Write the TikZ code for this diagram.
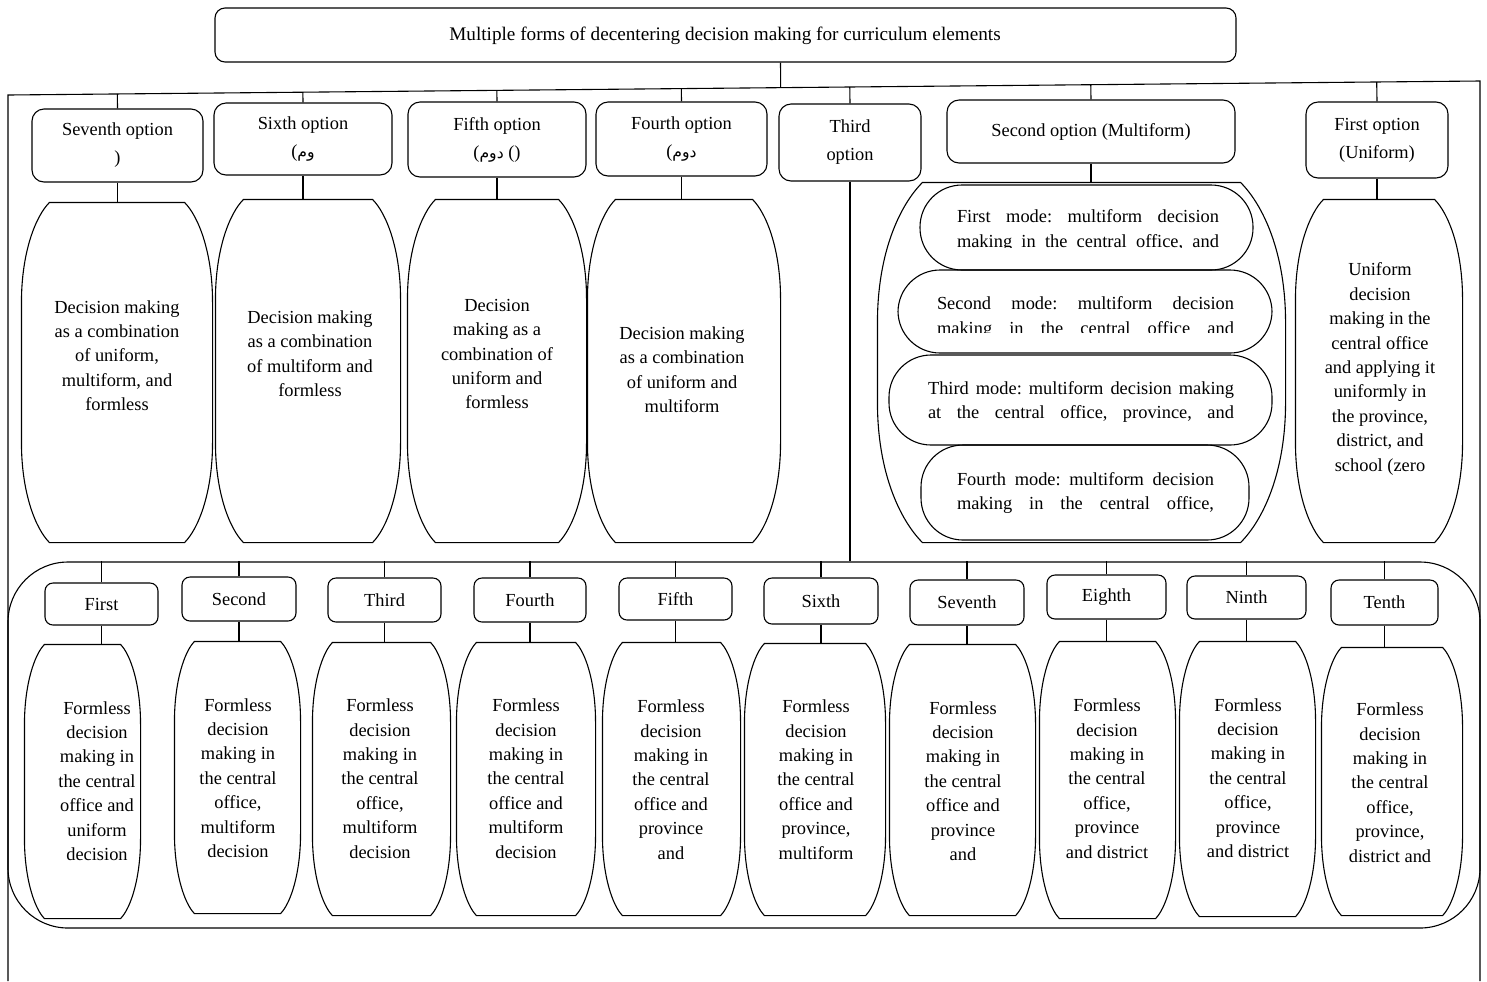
\documentclass[tikz,border=0pt]{standalone}
\usepackage{fontspec}
\setmainfont{Liberation Serif}
\newfontfamily\arabicfont[Script=Arabic,Scale=0.85]{DejaVu Sans}
\TeXXeTstate=1
\usetikzlibrary{calc,fit}

\newcommand\barrelshape[3]{%
 \draw ($(#1.north west)+(#2,0)$) -- ($(#1.north east)+(-#2,0)$)
  .. controls ($(#1.north east)+(-0.5*#2,0.5*#2)$) and ($(#1.north east)+(0,0.5*#3)$) .. ($(#1.north east)+(0,#3)$)
  -- ($(#1.south east)+(0,-#3)$)
  .. controls ($(#1.south east)+(0,-0.5*#3)$) and ($(#1.south east)+(-0.5*#2,-0.5*#2)$) .. ($(#1.south east)+(-#2,0)$)
  -- ($(#1.south west)+(#2,0)$)
  .. controls ($(#1.south west)+(0.5*#2,-0.5*#2)$) and ($(#1.south west)+(0,-0.5*#3)$) .. ($(#1.south west)+(0,-#3)$)
  -- ($(#1.north west)+(0,#3)$)
  .. controls ($(#1.north west)+(0,0.5*#3)$) and ($(#1.north west)+(0.5*#2,0.5*#2)$) .. ($(#1.north west)+(#2,0)$) -- cycle;}

\begin{document}
\begin{tikzpicture}[x=0.5pt,y=-0.5pt,line width=0.55pt,
  every node/.style={font=\fontsize{9.2}{12.2}\selectfont,inner sep=0pt},
  titlebox/.style={draw,rounded corners=5pt},
  optbox/.style={draw,rounded corners=6pt,align=center,font=\fontsize{9.2}{14}\selectfont},
  smallbox/.style={draw,rounded corners=4pt},
  holder/.style={draw=none},
  modebox/.style={draw,rounded corners=21pt},
  bigbox/.style={draw,rounded corners=30pt},
  txt/.style={align=center}]
\useasboundingbox (0,0) rectangle (1487,981);

% outer frame
\coordinate (FL) at (8,95);
\coordinate (FR) at (1480,81);
\coordinate (FBL) at (8,981);
\coordinate (FBR) at (1480,981);
\draw (FBL) -- (FL) -- (FR) -- (FBR);

% title
\node[titlebox,fit={(215,8)(1236,62)}] (title) {};
\node[txt,font=\fontsize{9.6}{12}\selectfont] (titlet) at (725,36) {Multiple forms of decentering decision making for curriculum elements};
\coordinate (tj) at ([xshift=27.5pt]title.south);
\draw (tj) -- ($(FL)!(tj)!(FR)$);

% option boxes
\node[optbox,minimum width=85.5pt,minimum height=36.5pt] (o7) at (117.5,145.5) {Seventh option\\)};
\node[optbox,minimum width=89pt,minimum height=36pt] (o6) at (303,139) {Sixth option\\({\arabicfont\beginR وم\endR}};
\node[optbox,minimum width=89pt,minimum height=37.5pt] (o5) at (497,139.5) {Fifth option\\({\arabicfont\beginR دوم\endR} ()};
\node[optbox,minimum width=85.5pt,minimum height=37pt] (o4) at (681.5,139) {Fourth option\\({\arabicfont\beginR دوم\endR}};
\node[optbox,minimum width=71pt,minimum height=38.5pt] (o3) at (850,142.5) {Third\\option};
\node[optbox,minimum width=144pt,minimum height=31.5pt] (o2) at (1091,131.5) {Second option (Multiform)};
\node[optbox,minimum width=71pt,minimum height=38pt] (o1) at (1377,140) {First option\\(Uniform)};
\foreach \n in {o7,o6,o5,o4,o3,o2,o1}
  \draw (\n.north) -- ($(FL)!(\n.north)!(FR)$);

% upper tall boxes
\node[holder,fit={(22,203)(212,542)}] (b7) {};
\node[holder,fit={(216,200)(400,542)}] (b6) {};
\node[holder,fit={(408,200)(586,542)}] (b5) {};
\node[holder,fit={(588,200)(780,542)}] (b4) {};
\node[holder,fit={(1296,200)(1462,542)}] (b1) {};
\foreach \n in {b7,b6,b5,b4,b1} {\barrelshape{\n}{28}{100}}
\node[txt] (b7t) at (117,355.5) {Decision making\\as a combination\\of uniform,\\multiform, and\\formless};
\node[txt] (b6t) at (310,353.5) {Decision making\\as a combination\\of multiform and\\formless};
\node[txt] (b5t) at (497,354) {Decision\\making as a\\combination of\\uniform and\\formless};
\node[txt] (b4t) at (682,369.5) {Decision making\\as a combination\\of uniform and\\multiform};
\node[txt] (b1t) at (1380,369) {Uniform\\decision\\making in the\\central office\\and applying it\\uniformly in\\the province,\\district, and\\school (zero};
\draw (o7.south) -- (o7.south |- b7.north);
\draw (o6.south) -- (o6.south |- b6.north);
\draw (o5.south) -- (o5.south |- b5.north);
\draw (o4.south) -- (o4.south |- b4.north);
\draw (o1.south) -- (o1.south |- b1.north);

% multiform container and modes
\node[holder,fit={(878,183)(1285,542)}] (mc) {};
\barrelshape{mc}{45}{140}
\draw (o2.south) -- (o2.south |- mc.north);
\node[modebox,fit={(920,185)(1253,270)}] (m1) {};
\node[modebox,fit={(898,270)(1272,353)}] (m2) {};
\node[modebox,fit={(889,355)(1272,445)}] (m3) {};
\node[modebox,fit={(921,445)(1249,540)}] (m4) {};
\begin{scope}
\clip (900,190) rectangle (1260,247);
\node (m1t) at (1088,230.5) {\parbox{131pt}{\frenchspacing\parfillskip=0pt First mode: multiform decision\linebreak making in the central office, and\par}};
\end{scope}
\begin{scope}
\clip (900,280) rectangle (1260,332);
\node (m2t) at (1085.5,317.5) {\parbox{148.5pt}{\frenchspacing\parfillskip=0pt Second mode: multiform decision\linebreak making in the central office and\par}};
\end{scope}
\node (m3t) at (1081,402) {\parbox{153pt}{\frenchspacing\parfillskip=0pt Third mode: multiform decision making\linebreak at the central office, province, and\par}};
\node (m4t) at (1085.5,493) {\parbox{128.5pt}{\frenchspacing\parfillskip=0pt Fourth mode: multiform decision\linebreak making in the central office,\par}};

% lower container
\node[bigbox,fit={(8,562)(1480,928)}] (bc) {};
\draw (o3.south) -- (o3.south |- bc.north);

% lower small boxes
\node[smallbox,minimum width=56.5pt,minimum height=21pt] (s1) at (101.5,604) {First};
\node[smallbox,minimum width=57pt,minimum height=22pt] (s2) at (239,599) {Second};
\node[smallbox,minimum width=56.5pt,minimum height=22pt] (s3) at (384.5,600) {Third};
\node[smallbox,minimum width=56pt,minimum height=22pt] (s4) at (530,600) {Fourth};
\node[smallbox,minimum width=56.5pt,minimum height=21pt] (s5) at (675.5,599) {Fifth};
\node[smallbox,minimum width=57pt,minimum height=23pt] (s6) at (821,601) {Sixth};
\node[smallbox,minimum width=57pt,minimum height=22.5pt] (s7) at (967,602.5) {Seventh};
\node[smallbox,minimum width=59.5pt,minimum height=22pt] (s8) at (1106.5,597) {Eighth};
\node[smallbox,minimum width=59.5pt,minimum height=21.5pt] (s9) at (1246.5,597.5) {Ninth};
\node[smallbox,minimum width=53.5pt,minimum height=22.5pt] (s10) at (1384.5,602.5) {Tenth};

% lower tall boxes
\node[holder,fit={(25,645)(140,918)}] (t1) {};
\node[holder,fit={(175,642)(300,913)}] (t2) {};
\node[holder,fit={(313,643)(450,915)}] (t3) {};
\node[holder,fit={(457,643)(595,915)}] (t4) {};
\node[holder,fit={(603,643)(740,915)}] (t5) {};
\node[holder,fit={(745,644)(885,915)}] (t6) {};
\node[holder,fit={(890,645)(1035,915)}] (t7) {};
\node[holder,fit={(1040,642)(1175,918)}] (t8) {};
\node[holder,fit={(1180,642)(1315,916)}] (t9) {};
\node[holder,fit={(1322,648)(1462,915)}] (t10) {};
\foreach \i in {1,...,10} {
  \barrelshape{t\i}{20}{80}
  \draw (s\i.north) -- (s\i.north |- bc.north);
  \draw (s\i.south) -- (s\i.south |- t\i.north);
}
\node[txt] (t1t) at (97,781) {Formless\\decision\\making in\\the central\\office and\\uniform\\decision};
\node[txt] (t2t) at (238,778) {Formless\\decision\\making in\\the central\\office,\\multiform\\decision};
\node[txt] (t3t) at (380,778.5) {Formless\\decision\\making in\\the central\\office,\\multiform\\decision};
\node[txt] (t4t) at (526,778.5) {Formless\\decision\\making in\\the central\\office and\\multiform\\decision};
\node[txt] (t5t) at (671,779.5) {Formless\\decision\\making in\\the central\\office and\\province\\and};
\node[txt] (t6t) at (816,779.5) {Formless\\decision\\making in\\the central\\office and\\province,\\multiform};
\node[txt] (t7t) at (963,781) {Formless\\decision\\making in\\the central\\office and\\province\\and};
\node[txt] (t8t) at (1107,778.5) {Formless\\decision\\making in\\the central\\office,\\province\\and district};
\node[txt] (t9t) at (1248,778) {Formless\\decision\\making in\\the central\\office,\\province\\and district};
\node[txt] (t10t) at (1390,782.5) {Formless\\decision\\making in\\the central\\office,\\province,\\district and};
\end{tikzpicture}
\end{document}
